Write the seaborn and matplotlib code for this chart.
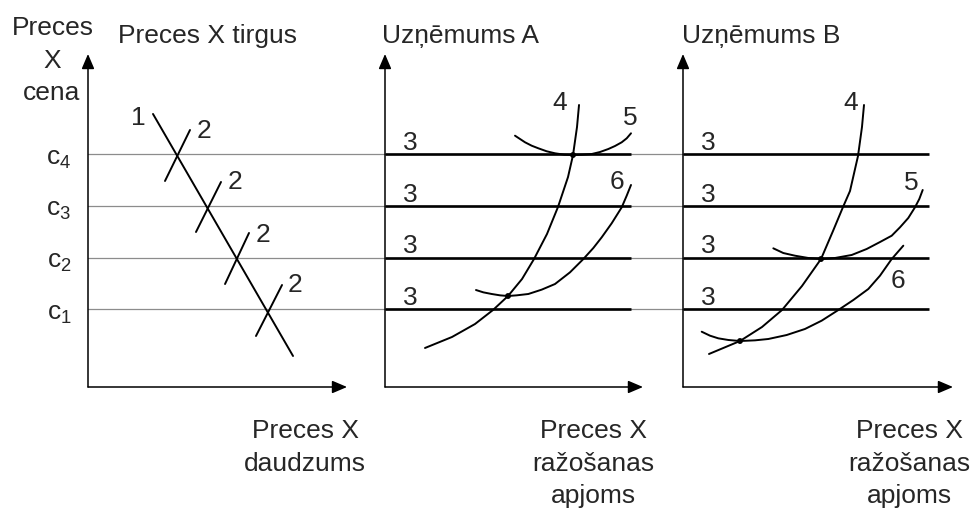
import matplotlib
matplotlib.use("Agg")
import matplotlib.pyplot as plt
import seaborn as sns

# ---------------- data (diagram units) ----------------
price_levels = [1.5, 2.5, 3.5, 4.5]
price_labels = [r"$\mathregular{c_1}$", r"$\mathregular{c_2}$",
                r"$\mathregular{c_3}$", r"$\mathregular{c_4}$"]

# Panel 1: market of good X
demand_q = [1.258, 3.968]
demand_p = [5.284, 0.600]
supply_q = [[1.490, 1.974], [2.090, 2.574], [2.652, 3.116], [3.251, 3.755]]
supply_p = [[3.987, 4.974], [3.000, 3.968], [1.993, 2.981], [0.987, 1.974]]
market_label_text = ["1", "2", "2", "2", "2"]
market_label_q = [0.968, 2.245, 2.845, 3.387, 4.006]
market_label_p = [5.226, 4.974, 3.987, 2.961, 1.993]

# Panel 2: firm A
a_mc_q = [0.774, 1.297, 1.742, 2.090, 2.381, 2.652, 2.884, 3.135, 3.348, 3.542, 3.639, 3.716, 3.755]
a_mc_p = [0.755, 0.968, 1.219, 1.490, 1.761, 2.090, 2.477, 2.961, 3.484, 4.064, 4.490, 5.032, 5.458]
a_atc_q = [2.516, 2.613, 2.710, 2.839, 2.967, 3.129, 3.290, 3.470, 3.639,
           3.818, 4.000, 4.161, 4.322, 4.451, 4.581, 4.678, 4.761]
a_atc_p = [4.864, 4.800, 4.736, 4.670, 4.620, 4.562, 4.523, 4.496, 4.490,
           4.496, 4.509, 4.548, 4.606, 4.664, 4.736, 4.813, 4.910]
a_avc_q = [1.761, 1.903, 2.065, 2.226, 2.381, 2.548, 2.774, 3.032, 3.290,
           3.580, 3.839, 4.032, 4.194, 4.387, 4.581, 4.678, 4.761]
a_avc_p = [1.877, 1.832, 1.800, 1.774, 1.761, 1.774, 1.800, 1.884, 1.993,
           2.219, 2.477, 2.690, 2.897, 3.168, 3.477, 3.703, 3.910]
a_dots_q = [3.639, 2.381]
a_dots_p = [4.490, 1.761]
a_label_text = ["4", "5", "6"]
a_label_q = [3.387, 4.742, 4.490]
a_label_p = [5.516, 5.226, 3.987]

# Panel 3: firm B
b_mc_q = [0.503, 1.103, 1.529, 1.916, 2.303, 2.671, 2.903, 3.097, 3.232, 3.387, 3.464, 3.503]
b_mc_p = [0.639, 0.890, 1.161, 1.490, 1.955, 2.477, 3.019, 3.484, 3.793, 4.471, 5.032, 5.458]
b_atc_q = [1.748, 1.941, 2.168, 2.425, 2.671, 2.942, 3.265, 3.555, 3.813,
           4.039, 4.200, 4.360, 4.490, 4.573, 4.639]
b_atc_p = [2.684, 2.593, 2.541, 2.497, 2.477, 2.497, 2.555, 2.671, 2.806,
           2.928, 3.091, 3.271, 3.478, 3.638, 3.813]
b_avc_q = [0.362, 0.523, 0.683, 0.877, 1.103, 1.393, 1.651, 2.006, 2.361,
           2.684, 3.006, 3.297, 3.587, 3.813, 4.039, 4.264]
b_avc_p = [1.070, 0.993, 0.942, 0.910, 0.890, 0.903, 0.929, 1.006, 1.123,
           1.284, 1.490, 1.684, 1.897, 2.155, 2.477, 2.735]
b_dots_q = [1.103, 2.671]
b_dots_p = [0.890, 2.477]
b_label_text = ["4", "5", "6"]
b_label_q = [3.251, 4.413, 4.161]
b_label_p = [5.516, 3.968, 2.071]

firm_line_qmax = 4.76
level_label_q = 0.484
level_label_offset = 0.24

# ---------------- layout (pixels) ----------------
W, H = 973, 510
U = 51.67          # pixels per diagram unit
origin_y = 388
ylim_top = 6.445
panel_origins = [88, 385, 683]
panel_xmax = [5.013, 4.993, 5.225]

sns.set_theme(style="white")
plt.rcParams["font.family"] = ["Liberation Sans", "DejaVu Sans"]
plt.rcParams["mathtext.fontset"] = "custom"
plt.rcParams["mathtext.rm"] = "Liberation Sans"
FS = 19

fig = plt.figure(figsize=(W / 100, H / 100), dpi=100)
fig.patch.set_facecolor("white")


def fx(x):
    return x / W


def fy(y):
    return 1 - y / H


def make_axes(ox, xmax):
    rect = [fx(ox), fy(origin_y), xmax * U / W, ylim_top * U / H]
    ax = fig.add_axes(rect)
    ax.set_xlim(0, xmax)
    ax.set_ylim(0, ylim_top)
    ax.patch.set_alpha(0)
    for s in ax.spines.values():
        s.set_visible(False)
    ax.set_xticks([])
    ax.set_yticks([])
    ax.set_zorder(2)
    return ax


# background grey price lines spanning all panels
bg_right = panel_origins[2] + firm_line_qmax * U
ax_bg = fig.add_axes([fx(panel_origins[0]), fy(origin_y),
                      (bg_right - panel_origins[0]) / W, ylim_top * U / H])
ax_bg.set_xlim(0, 1)
ax_bg.set_ylim(0, ylim_top)
ax_bg.axis("off")
ax_bg.set_zorder(1)
for lv in price_levels:
    ax_bg.axhline(lv, color="#8c8c8c", lw=0.9)

axes = [make_axes(ox, xm) for ox, xm in zip(panel_origins, panel_xmax)]


def arrows(ax):
    kw = dict(arrowstyle="-|>,head_length=0.75,head_width=0.32", color="black",
              lw=1.1, shrinkA=0, shrinkB=0, mutation_scale=12)
    ax.annotate("", xy=(0, 1), xytext=(0, 0), xycoords="axes fraction",
                textcoords="axes fraction", arrowprops=kw, annotation_clip=False)
    ax.annotate("", xy=(1, 0), xytext=(0, 0), xycoords="axes fraction",
                textcoords="axes fraction", arrowprops=kw, annotation_clip=False)


for ax in axes:
    arrows(ax)

LW = 1.4
# ---- panel 1
ax1 = axes[0]
sns.lineplot(x=demand_q, y=demand_p, ax=ax1, color="black", lw=LW, sort=False)
for q, p in zip(supply_q, supply_p):
    sns.lineplot(x=q, y=p, ax=ax1, color="black", lw=LW, sort=False)
for t, q, p in zip(market_label_text, market_label_q, market_label_p):
    ax1.text(q, p, t, fontsize=FS, ha="center", va="center")
ax1.set_yticks(price_levels)
ax1.set_yticklabels(price_labels, fontsize=FS)
ax1.tick_params(axis="y", length=0, pad=12)


def firm_panel(ax, mcq, mcp, atq, atp, avq, avp, dq, dp, lt, lq, lp):
    ax.hlines(price_levels, 0, firm_line_qmax, color="black", lw=1.9)
    for lv in price_levels:
        ax.text(level_label_q, lv + level_label_offset, "3", fontsize=FS,
                ha="center", va="center")
    for qq, pp in ((mcq, mcp), (atq, atp), (avq, avp)):
        sns.lineplot(x=qq, y=pp, ax=ax, color="black", lw=LW, sort=False)
    sns.scatterplot(x=dq, y=dp, ax=ax, color="black", s=18, edgecolor="none",
                    zorder=5)
    for t, q, p in zip(lt, lq, lp):
        ax.text(q, p, t, fontsize=FS, ha="center", va="center")


firm_panel(axes[1], a_mc_q, a_mc_p, a_atc_q, a_atc_p, a_avc_q, a_avc_p,
           a_dots_q, a_dots_p, a_label_text, a_label_q, a_label_p)
firm_panel(axes[2], b_mc_q, b_mc_p, b_atc_q, b_atc_p, b_avc_q, b_avc_p,
           b_dots_q, b_dots_p, b_label_text, b_label_q, b_label_p)


# ---- titles and axis texts
def ftext(x, y, s, ha="center"):
    fig.text(fx(x), fy(y), s, fontsize=FS, ha=ha, va="baseline")


ftext(53, 35, "Preces")
ftext(52, 68, "X")
ftext(52, 100, "cena")
ftext(118, 43, "Preces X tirgus", ha="left")
ftext(382, 43, "Uzņēmums A", ha="left")
ftext(682, 43, "Uzņēmums B", ha="left")

ftext(305, 438, "Preces X")
ftext(305, 471, "daudzums")
ftext(593, 438, "Preces X")
ftext(593, 471, "ražošanas")
ftext(593, 503, "apjoms")
ftext(909, 438, "Preces X")
ftext(909, 471, "ražošanas")
ftext(909, 503, "apjoms")

fig.savefig("out.png", dpi=100, facecolor="white")
